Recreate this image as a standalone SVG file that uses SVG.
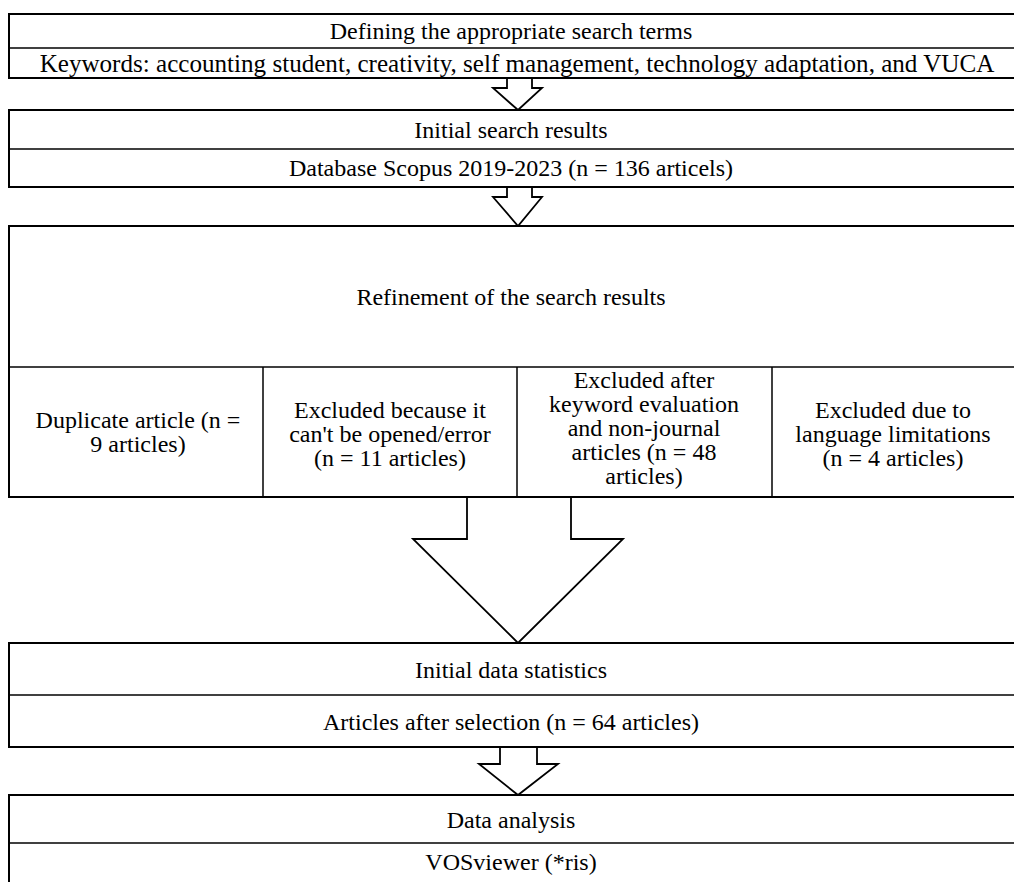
<svg xmlns="http://www.w3.org/2000/svg" width="1014" height="882" viewBox="0 0 1014 882">
<style>
.box{fill:#fff;stroke:#000;stroke-width:2}
.div{stroke:#000;stroke-width:1.5}
.arr{fill:#fff;stroke:#000;stroke-width:1.8;stroke-linejoin:miter}
text{font-family:"Liberation Serif","Times New Roman",serif;font-size:24px;fill:#000;text-anchor:middle;dominant-baseline:central}
.big{font-size:25.1px}
</style>
<rect width="1014" height="882" fill="#fff"/>
<g id="connectors">
<path class="arr" d="M507,78 V88 H493 L518,110 L542,88 H532 V78"/>
<path class="arr" d="M507,187 V197 H493 L518,226 L542,197 H532 V187"/>
<path class="arr" d="M467,497 V539 H413 L518,643 L623,539 H571 V497"/>
<path class="arr" d="M500,747 V764 H479 L518,795 L558,764 H537 V747"/>
</g>
<g id="n1">
<rect class="box" x="9" y="14" width="1012" height="64"/>
<line class="div" x1="9" y1="48" x2="1014" y2="48"/>
<text x="511" y="31">Defining the appropriate search terms</text>
<text class="big" x="517" y="63">Keywords: accounting student, creativity, self management, technology adaptation, and VUCA</text>
</g>
<g id="n2">
<rect class="box" x="9" y="110" width="1012" height="77"/>
<line class="div" x1="9" y1="149" x2="1014" y2="149"/>
<text x="511" y="130">Initial search results</text>
<text x="511" y="168">Database Scopus 2019-2023 (n = 136 articels)</text>
</g>
<g id="n3">
<rect class="box" x="9" y="226" width="1012" height="271"/>
<line class="div" x1="9" y1="367" x2="1014" y2="367"/>
<line class="div" x1="263" y1="367" x2="263" y2="497"/>
<line class="div" x1="517" y1="367" x2="517" y2="497"/>
<line class="div" x1="772" y1="367" x2="772" y2="497"/>
<text x="511" y="297">Refinement of the search results</text>
</g>
<g id="n3a">
<text x="138" y="420">Duplicate article (n =</text>
<text x="138" y="444">9 articles)</text>
</g>
<g id="n3b">
<text x="390" y="410">Excluded because it</text>
<text x="390" y="434">can't be opened/error</text>
<text x="390" y="458">(n = 11 articles)</text>
</g>
<g id="n3c">
<text x="644" y="380">Excluded after</text>
<text x="644" y="404">keyword evaluation</text>
<text x="644" y="428">and non-journal</text>
<text x="644" y="452">articles (n = 48</text>
<text x="644" y="476">articles)</text>
</g>
<g id="n3d">
<text x="893" y="410">Excluded due to</text>
<text x="893" y="434">language limitations</text>
<text x="893" y="458">(n = 4 articles)</text>
</g>
<g id="n4">
<rect class="box" x="9" y="643" width="1012" height="104"/>
<line class="div" x1="9" y1="695" x2="1014" y2="695"/>
<text x="511" y="670">Initial data statistics</text>
<text x="511" y="722">Articles after selection (n = 64 articles)</text>
</g>
<g id="n5">
<rect class="box" x="9" y="795" width="1012" height="100"/>
<line class="div" x1="9" y1="843" x2="1014" y2="843"/>
<text x="511" y="820">Data analysis</text>
<text x="511" y="862">VOSviewer (*ris)</text>
</g>
</svg>
